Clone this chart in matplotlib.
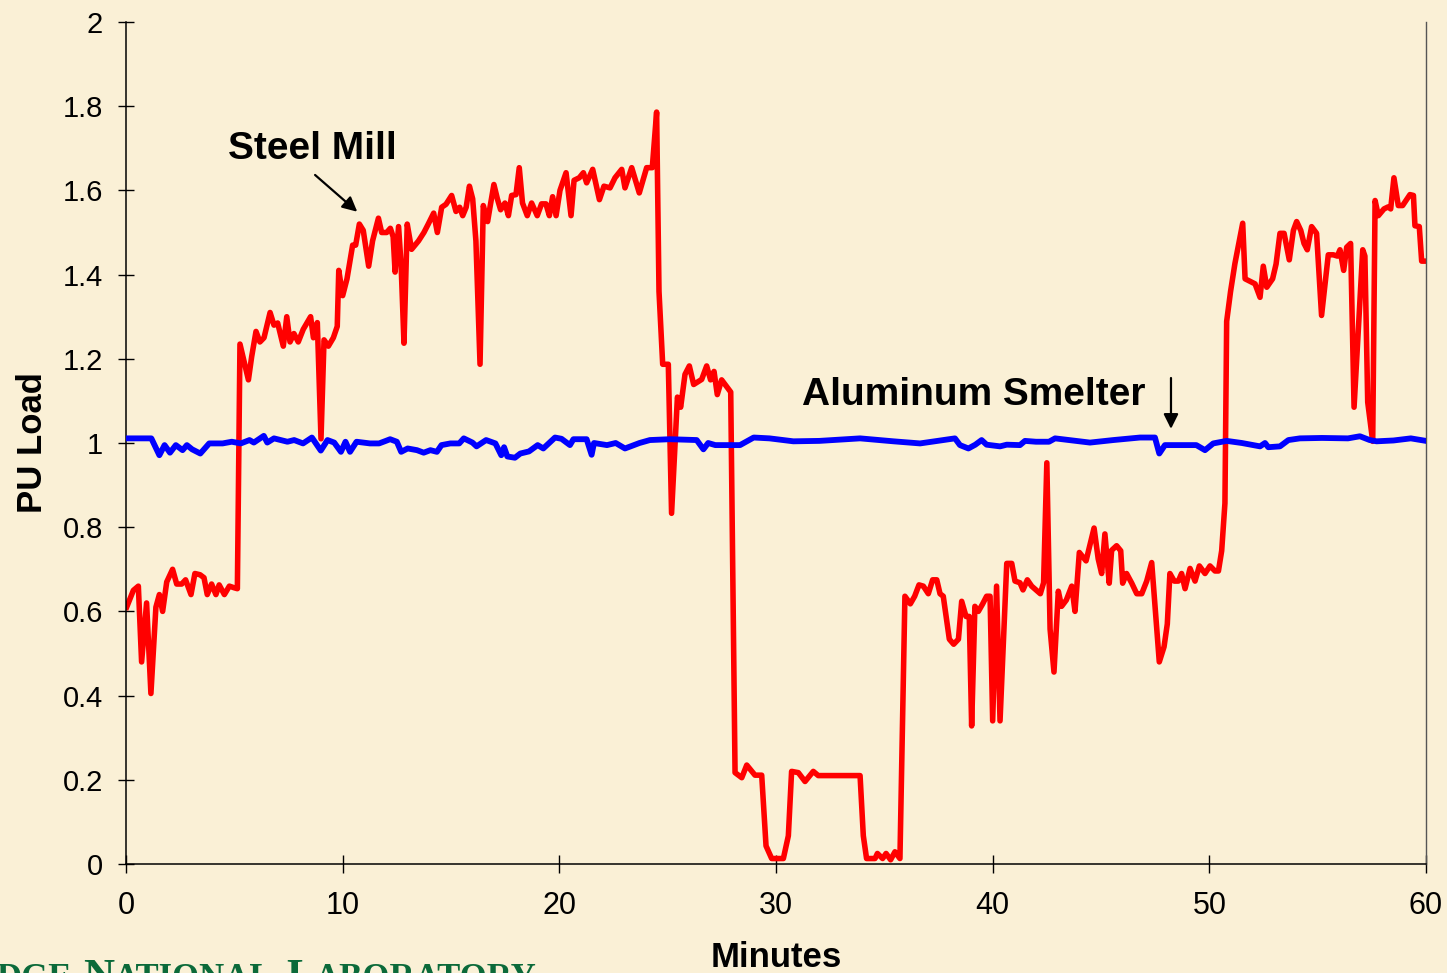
import numpy as np
import matplotlib.pyplot as plt

plt.rcParams['font.family'] = ['Liberation Sans', 'DejaVu Sans']

# steel mill load (minutes, per-unit load)
steel_t = [0.03, 0.34, 0.57, 0.72, 0.95, 1.15, 1.38, 1.54, 1.69, 1.88, 2.15, 2.34, 2.57, 2.75, 3.0, 3.18,
           3.42, 3.6, 3.75, 3.95, 4.15, 4.3, 4.54, 4.77, 5.0, 5.14, 5.26, 5.65, 5.8, 6.0, 6.18, 6.37,
           6.65, 6.83, 7.0, 7.26, 7.42, 7.57, 7.75, 7.95, 8.18, 8.52, 8.65, 8.83, 9.0, 9.14, 9.34, 9.57,
           9.75, 9.82, 10.0, 10.2, 10.46, 10.6, 10.77, 10.95, 11.2, 11.38, 11.65, 11.8, 12.03, 12.2,
           12.33, 12.42, 12.58, 12.7, 12.83, 12.98, 13.18, 13.5, 13.75, 13.95, 14.2, 14.37, 14.57, 14.77,
           15.03, 15.23, 15.4, 15.54, 15.7, 15.85, 16.0, 16.15, 16.34, 16.49, 16.69, 16.8, 16.98, 17.14,
           17.29, 17.49, 17.65, 17.8, 18.0, 18.15, 18.3, 18.52, 18.72, 18.98, 19.18, 19.38, 19.54, 19.69,
           19.85, 20.03, 20.31, 20.54, 20.68, 20.92, 21.11, 21.26, 21.54, 21.85, 22.06, 22.34, 22.57,
           22.88, 23.03, 23.34, 23.69, 24.03, 24.29, 24.49, 24.6, 24.77, 25.03, 25.18, 25.45, 25.6, 25.8,
           26.0, 26.2, 26.57, 26.8, 26.98, 27.14, 27.29, 27.49, 27.91, 28.11, 28.42, 28.65, 29.03, 29.34,
           29.54, 29.8, 30.34, 30.57, 30.72, 31.03, 31.34, 31.72, 31.95, 33.88, 34.03, 34.18, 34.57, 34.68,
           34.92, 35.08, 35.29, 35.49, 35.72, 35.95, 36.2, 36.4, 36.6, 36.8, 37.03, 37.23, 37.42, 37.57,
           37.72, 38.0, 38.2, 38.42, 38.57, 38.77, 38.92, 39.03, 39.18, 39.34, 39.54, 39.72, 39.88, 40.0,
           40.18, 40.34, 40.65, 40.88, 41.03, 41.26, 41.4, 41.6, 41.8, 42.2, 42.35, 42.5, 42.65, 42.83,
           43.03, 43.18, 43.4, 43.65, 43.8, 44.0, 44.31, 44.68, 44.87, 45.03, 45.18, 45.38, 45.49, 45.72,
           45.91, 46.0, 46.18, 46.42, 46.65, 46.88, 47.11, 47.34, 47.54, 47.69, 47.91, 48.06, 48.18, 48.38,
           48.57, 48.72, 48.88, 49.11, 49.34, 49.54, 49.8, 50.03, 50.26, 50.42, 50.57, 50.72, 50.8, 50.98,
           51.18, 51.54, 51.65, 51.88, 52.11, 52.34, 52.49, 52.65, 52.92, 53.08, 53.26, 53.45, 53.69,
           53.88, 54.03, 54.22, 54.37, 54.52, 54.72, 54.95, 55.18, 55.49, 55.72, 55.91, 56.03, 56.2, 56.34,
           56.52, 56.68, 57.08, 57.18, 57.31, 57.54, 57.65, 57.8, 58.06, 58.26, 58.37, 58.52, 58.72,
           58.92, 59.26, 59.42, 59.49, 59.69, 59.8, 60.0]
steel_load = [0.61, 0.65, 0.66, 0.48, 0.62, 0.405, 0.61, 0.64, 0.60, 0.67, 0.70, 0.665, 0.665, 0.675, 0.64, 0.69,
              0.687, 0.68, 0.64, 0.665, 0.64, 0.663, 0.64, 0.66, 0.656, 0.654, 1.235, 1.15, 1.205, 1.265, 1.24, 1.25,
              1.31, 1.28, 1.285, 1.23, 1.30, 1.24, 1.26, 1.24, 1.27, 1.30, 1.25, 1.286, 1.01, 1.245, 1.23, 1.25,
              1.277, 1.41, 1.35, 1.39, 1.47, 1.47, 1.52, 1.505, 1.42, 1.48, 1.534, 1.50, 1.50, 1.51,
              1.49, 1.406, 1.514, 1.42, 1.237, 1.52, 1.46, 1.48, 1.50, 1.52, 1.546, 1.50, 1.56, 1.567,
              1.588, 1.55, 1.56, 1.54, 1.56, 1.61, 1.58, 1.48, 1.187, 1.564, 1.526, 1.56, 1.614, 1.58,
              1.554, 1.57, 1.54, 1.588, 1.59, 1.654, 1.57, 1.54, 1.57, 1.54, 1.568, 1.568, 1.54, 1.585,
              1.54, 1.60, 1.642, 1.54, 1.624, 1.63, 1.642, 1.618, 1.65, 1.578, 1.61, 1.606, 1.63,
              1.65, 1.606, 1.654, 1.594, 1.654, 1.654, 1.786, 1.36, 1.187, 1.187, 0.833, 1.109, 1.085, 1.163,
              1.183, 1.139, 1.151, 1.183, 1.15, 1.17, 1.115, 1.15, 1.121, 0.217, 0.205, 0.235, 0.211, 0.211,
              0.043, 0.013, 0.013, 0.067, 0.22, 0.217, 0.196, 0.22, 0.21, 0.21, 0.067, 0.013, 0.013, 0.025,
              0.013, 0.025, 0.01, 0.029, 0.013, 0.636, 0.618, 0.636, 0.663, 0.66, 0.642, 0.675, 0.675, 0.642,
              0.636, 0.534, 0.522, 0.534, 0.624, 0.588, 0.588, 0.328, 0.612, 0.60, 0.618, 0.636, 0.636, 0.34,
              0.66, 0.34, 0.714, 0.714, 0.672, 0.668, 0.651, 0.675, 0.66, 0.642, 0.668, 0.953, 0.558, 0.456,
              0.648, 0.612, 0.627, 0.66, 0.60, 0.74, 0.72, 0.798, 0.725, 0.69, 0.784, 0.667, 0.745, 0.756,
              0.744, 0.667, 0.69, 0.667, 0.642, 0.642, 0.672, 0.716, 0.582, 0.48, 0.516, 0.57, 0.69, 0.672,
              0.672, 0.69, 0.654, 0.702, 0.672, 0.708, 0.69, 0.708, 0.696, 0.696, 0.744, 0.857, 1.289, 1.36,
              1.426, 1.522, 1.39, 1.384, 1.378, 1.346, 1.42, 1.37, 1.39, 1.425, 1.498, 1.498, 1.435,
              1.505, 1.526, 1.505, 1.474, 1.459, 1.514, 1.498, 1.303, 1.447, 1.447, 1.444, 1.459, 1.41, 1.465,
              1.474, 1.085, 1.459, 1.444, 1.097, 1.004, 1.576, 1.54, 1.556, 1.561, 1.556, 1.63, 1.564,
              1.564, 1.59, 1.588, 1.516, 1.514, 1.432, 1.432]

# aluminum smelter load
smelter_t = [0.0, 1.17, 1.54, 1.78, 2.03, 2.3, 2.61, 2.81, 3.05, 3.43, 3.84, 4.46, 4.88, 5.3, 5.7, 5.9,
             6.36, 6.52, 6.83, 7.45, 7.76, 8.17, 8.58, 8.99, 9.3, 9.61, 9.92, 10.13, 10.34, 10.64, 11.26,
             11.68, 11.99, 12.19, 12.5, 12.7, 13.0, 13.43, 13.74, 14.05, 14.35, 14.56, 14.97, 15.38, 15.59,
             15.99, 16.18, 16.62, 17.05, 17.32, 17.45, 17.6, 17.95, 18.2, 18.6, 19.0, 19.26, 19.8, 20.1,
             20.49, 20.65, 21.26, 21.49, 21.6, 22.2, 22.6, 23.03, 23.7, 24.18, 25.1, 26.34, 26.65, 26.87,
             27.2, 27.85, 28.34, 28.97, 29.7, 30.8, 32.0, 33.88, 35.42, 36.65, 38.26, 38.49, 38.88, 39.2,
             39.49, 39.72, 40.34, 40.65, 41.26, 41.49, 42.0, 42.6, 42.88, 44.49, 45.57, 46.8, 47.49, 47.69,
             47.95, 48.6, 49.4, 49.8, 50.18, 50.8, 51.5, 52.34, 52.57, 52.72, 53.26, 53.65, 54.18, 55.2,
             56.4, 56.95, 57.4, 57.72, 58.5, 59.3, 60.0]
smelter_load = [1.011, 1.011, 0.971, 0.995, 0.977, 0.995, 0.983, 0.995, 0.985, 0.975, 0.999, 0.999, 1.003, 0.999, 1.007, 1.001,
                1.017, 1.001, 1.011, 1.003, 1.007, 0.999, 1.013, 0.982, 1.007, 1.001, 0.979, 1.003, 0.979, 1.003, 0.999,
                0.999, 1.005, 1.009, 1.003, 0.979, 0.987, 0.983, 0.977, 0.983, 0.979, 0.995, 0.999, 0.999, 1.011,
                1.001, 0.992, 1.007, 0.999, 0.971, 0.99, 0.968, 0.965, 0.975, 0.98, 0.995, 0.987, 1.013, 1.01,
                0.995, 1.009, 1.009, 0.972, 1.0, 0.995, 1.0, 0.987, 1.0, 1.007, 1.009, 1.007, 0.985, 1.0,
                0.995, 0.995, 0.995, 1.013, 1.011, 1.004, 1.005, 1.011, 1.004, 0.999, 1.011, 0.995, 0.987, 0.996,
                1.007, 0.996, 0.992, 0.996, 0.995, 1.005, 1.003, 1.003, 1.011, 1.001, 1.007, 1.013, 1.013, 0.975,
                0.995, 0.995, 0.995, 0.983, 0.999, 1.005, 1.0, 0.992, 1.0, 0.99, 0.992, 1.007, 1.011, 1.012,
                1.011, 1.016, 1.007, 1.004, 1.006, 1.011, 1.005]

xticks = [0, 10, 20, 30, 40, 50, 60]
yticks = [0, 0.2, 0.4, 0.6, 0.8, 1, 1.2, 1.4, 1.6, 1.8, 2]
ytick_labels = ['0', '0.2', '0.4', '0.6', '0.8', '1', '1.2', '1.4', '1.6', '1.8', '2']

bg = '#faf0d6'
W, H = 1447, 973
fig = plt.figure(figsize=(W / 100, H / 100), dpi=100, facecolor=bg)
ax = fig.add_axes([126 / W, 1 - 864 / H, 1300 / W, 842 / H])
ax.set_facecolor(bg)

ax.plot(steel_t, steel_load, color='#ff0000', lw=4.0, solid_joinstyle='round', zorder=2)
ax.plot(smelter_t, smelter_load, color='#0000ff', lw=4.2, solid_joinstyle='round', zorder=3)

ax.set_xlim(0, 60)
ax.set_ylim(0, 2)
ax.set_xticks(xticks)
ax.set_xticklabels([str(v) for v in xticks])
ax.set_yticks(yticks)
ax.set_yticklabels(ytick_labels)
ax.tick_params(axis='x', direction='inout', length=13, width=1, labelsize=22, pad=13)
ax.tick_params(axis='y', direction='inout', length=11, width=1, labelsize=21, pad=11)
for s in ['left', 'bottom']:
    ax.spines[s].set_color('black')
    ax.spines[s].set_linewidth(1.1)
ax.spines['top'].set_visible(False)
ax.spines['right'].set_color('#555555')
ax.spines['right'].set_linewidth(1.0)

ax.set_xlabel('Minutes', fontsize=25, fontweight='bold', labelpad=14)
ax.set_ylabel('PU Load', fontsize=25, fontweight='bold', labelpad=10)

ax.annotate('', xy=(10.77, 1.545), xytext=(8.63, 1.641),
            arrowprops=dict(arrowstyle='-|>', color='black', lw=1.6, mutation_scale=22))
ax.text(8.6, 1.675, 'Steel Mill', fontsize=28, fontweight='bold', ha='center', va='baseline')

ax.annotate('', xy=(48.23, 1.027), xytext=(48.23, 1.161),
            arrowprops=dict(arrowstyle='-|>', color='black', lw=1.6, mutation_scale=22))
ax.text(31.2, 1.09, 'Aluminum Smelter', fontsize=28, fontweight='bold', ha='left', va='baseline')

# footer logo text, cut at the bottom edge as in the slide
fig.canvas.draw()
r = fig.canvas.get_renderer()
green = '#0b6a3a'
big, small = 31, 25
base = 1 - 988 / H
foot = dict(family=['Liberation Serif'], fontweight='bold', color=green, va='baseline')
fig.text(72 / W, base, 'DGE', fontsize=small, ha='right', **foot)
t = fig.text(83 / W, base, 'N', fontsize=big, ha='left', **foot)
x1 = t.get_window_extent(renderer=r).x1
fig.text(x1 / W, base, 'ATIONAL', fontsize=small, ha='left', **foot)
t = fig.text(286 / W, base, 'L', fontsize=big, ha='left', **foot)
x1 = t.get_window_extent(renderer=r).x1
fig.text(x1 / W, base, 'ABORATORY', fontsize=small, ha='left', **foot)

fig.savefig('out.png', dpi=100, facecolor=bg)
